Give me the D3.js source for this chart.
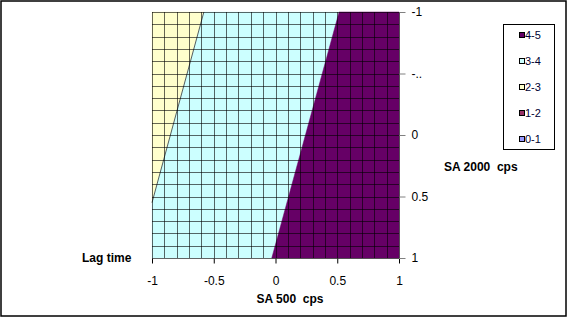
<!DOCTYPE html>
<html>
<head>
<meta charset="utf-8">
<script src="https://cdn.jsdelivr.net/npm/d3@7"></script>
<style>
  body { margin: 0; background: #fff; }
  text { font-family: "Liberation Sans", Arial, sans-serif; font-size: 12px; fill: #000; }
  .title { font-weight: bold; }
</style>
</head>
<body>
<script>
// chart values
var gridSteps = d3.range(-1, 1.0001, 0.1);          // surface wire-frame positions
var xTicks = [-1, -0.5, 0, 0.5, 1];
var xTickLabels = ["-1", "-0.5", "0", "0.5", "1"];
var yTicks = [-1, -0.5, 0, 0.5, 1];
var yTickLabels = ["-1", "-..", "0", "0.5", "1"];   // Excel truncated -0.5

// band regions [SA 500, SA 2000] as seen from above
var band23 = [[-1, -1], [-0.58, -1], [-1, 0.55]];
var band34 = [[-0.58, -1], [0.515, -1], [-0.03, 1], [-1, 1], [-1, 0.55]];
var band45 = [[0.515, -1], [1, -1], [1, 1], [-0.03, 1]];

var legendNames = ["4-5", "3-4", "2-3", "1-2", "0-1"];
var legendColors = ["#660066", "#CCFFFF", "#FFFFCC", "#993366", "#9999FF"];

window.onload = function(){
    var w = 568, h = 319;

    var svg = d3.select("body").append("svg")
        .attr("width", w)
        .attr("height", h);

    // outer chart border
    svg.append("rect")
        .attr("x", 1).attr("y", 1)
        .attr("width", 565).attr("height", 315)
        .style("fill", "#fff")
        .style("stroke", "#000")
        .style("stroke-width", 1.5);

    var x = d3.scaleLinear().domain([-1, 1]).range([152, 399]);
    var y = d3.scaleLinear().domain([-1, 1]).range([12, 258]);

    var line = d3.line()
        .x(function(d){ return x(d[0]); })
        .y(function(d){ return y(d[1]); });

    var bands = [
        {pts: band23, color: legendColors[2]},
        {pts: band34, color: legendColors[1]},
        {pts: band45, color: legendColors[0]}
    ];

    svg.selectAll(".band")
        .data(bands)
        .enter()
        .append("path")
        .attr("class", "band")
        .attr("d", function(d){ return line(d.pts) + "Z"; })
        .style("fill", function(d){ return d.color; })
        .style("stroke", function(d){ return d.color; })
        .style("stroke-width", 0.5);

    // thin edge on yellow band
    svg.append("path")
        .attr("d", line([band23[1], band23[2]]))
        .style("stroke", "#333")
        .style("stroke-width", 0.8)
        .style("fill", "none");

    // wire frame
    var grid = svg.append("g").attr("class", "grid");
    grid.selectAll(".vline")
        .data(gridSteps)
        .enter()
        .append("line")
        .attr("x1", function(d){ return Math.round(x(d)) + 0.5; })
        .attr("x2", function(d){ return Math.round(x(d)) + 0.5; })
        .attr("y1", y(-1)).attr("y2", y(1))
        .style("stroke", "#000")
        .style("stroke-opacity", 0.6);
    grid.selectAll(".hline")
        .data(gridSteps)
        .enter()
        .append("line")
        .attr("y1", function(d){ return Math.round(y(d)) + 0.5; })
        .attr("y2", function(d){ return Math.round(y(d)) + 0.5; })
        .attr("x1", x(-1)).attr("x2", x(1))
        .style("stroke", "#000")
        .style("stroke-opacity", 0.6);

    // bottom axis (SA 500 cps)
    var xAxis = d3.axisBottom(x)
        .tickValues(xTicks)
        .tickFormat(function(d, i){ return xTickLabels[i]; })
        .tickSize(5)
        .tickPadding(13);
    var gx = svg.append("g")
        .attr("transform", "translate(0," + (y(1) + 0.5) + ")")
        .call(xAxis);
    gx.select(".domain").remove();
    gx.selectAll("text").style("font-size", "12px").style("font-family", "Liberation Sans, Arial, sans-serif");

    // right axis (SA 2000 cps)
    var yAxis = d3.axisRight(y)
        .tickValues(yTicks)
        .tickFormat(function(d, i){ return yTickLabels[i]; })
        .tickSize(6)
        .tickPadding(6);
    var gy = svg.append("g")
        .attr("transform", "translate(" + (x(1) + 0.5) + ",0)")
        .call(yAxis);
    gy.select(".domain").remove();
    gy.selectAll("line").style("stroke", "#808080");
    gy.selectAll("text").style("font-size", "12px").style("font-family", "Liberation Sans, Arial, sans-serif");

    // axis titles (double space kept as in the original)
    svg.append("text").attr("class", "title")
        .attr("x", 290).attr("y", 303)
        .attr("text-anchor", "middle")
        .text("SA 500 \u00a0cps");
    svg.append("text").attr("class", "title")
        .attr("x", 444).attr("y", 171)
        .text("SA 2000 \u00a0cps");
    svg.append("text").attr("class", "title")
        .attr("x", 82).attr("y", 262)
        .text("Lag time");

    // legend
    svg.append("rect")
        .attr("x", 503.5).attr("y", 24.5)
        .attr("width", 51).attr("height", 125)
        .style("fill", "#fff")
        .style("stroke", "#000");

    var legend = svg.selectAll(".legend")
        .data(legendNames)
        .enter()
        .append("g")
        .attr("class", "legend")
        .attr("transform", function(d, i){ return "translate(519," + (36 + i * 26) + ")"; });
    legend.append("rect")
        .attr("x", 0.5).attr("y", -3.5)
        .attr("width", 5).attr("height", 5)
        .style("fill", function(d, i){ return legendColors[i]; })
        .style("stroke", "#000");
    legend.append("text")
        .attr("x", 6).attr("y", 3)
        .style("font-size", "11px")
        .style("fill", "#000033")
        .text(function(d){ return d; });
};
</script>
</body>
</html>
